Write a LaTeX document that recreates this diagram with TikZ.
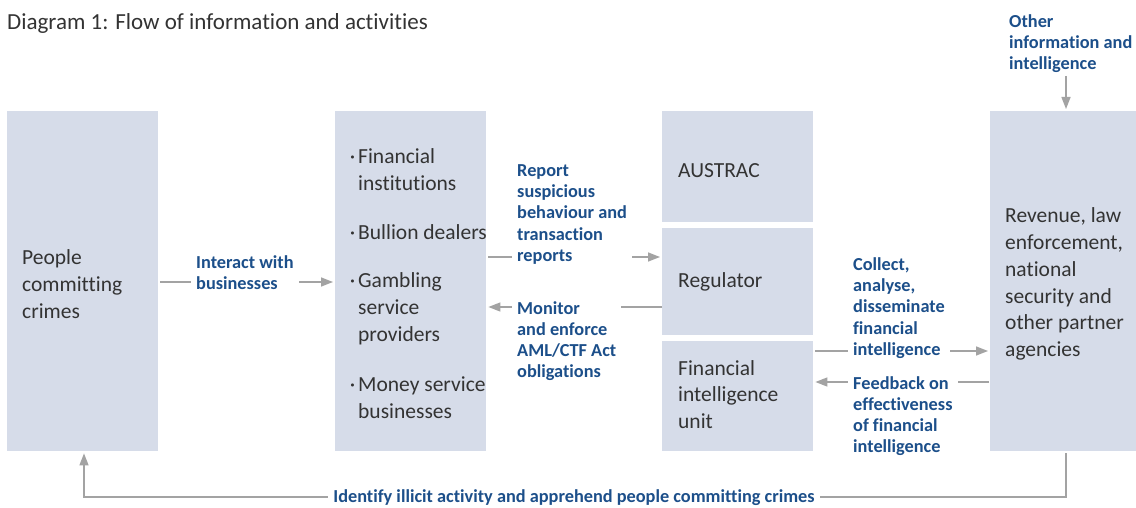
\documentclass[tikz,border=0pt]{standalone}
\usepackage{fontspec}
\setmainfont{Carlito}[Ligatures=NoCommon]
\usetikzlibrary{arrows.meta}
\definecolor{boxfill}{HTML}{D6DCE9}
\definecolor{labelblue}{HTML}{1C4F8A}
\definecolor{bodytext}{HTML}{333333}
\definecolor{linegrey}{HTML}{A3A3A3}
\begin{document}
\begin{tikzpicture}[x=1pt,y=-1pt,
  box/.style={fill=boxfill, draw=none, anchor=north west, inner sep=0pt},
  body/.style={text=bodytext, font=\fontsize{21.5}{26.8}\selectfont, align=left, anchor=west, inner sep=0pt},
  lbl/.style={text=labelblue, font=\bfseries\fontsize{18.3}{21.2}\selectfont, align=left, anchor=west, fill=white, inner xsep=5pt, inner ysep=0pt},
  flow/.style={draw=linegrey, line width=1.4pt, -{Triangle[length=12pt,width=9pt]}},
]
\useasboundingbox (0,0) rectangle (1136,508);
\fill[white] (0,0) rectangle (1136,508);

% title
\node[body, font=\fontsize{23}{26}\selectfont] (title) at (7,23.5) {Diagram 1: Flow of information and activities};

% boxes
\node[box, minimum width=151pt, minimum height=340pt] (crimes)   at (7,111)   {};
\node[box, minimum width=151pt, minimum height=340pt] (business) at (335,111) {};
\node[box, minimum width=151pt, minimum height=111pt] (austrac)  at (662,111) {};
\node[box, minimum width=151pt, minimum height=107pt] (regulator) at (662,228) {};
\node[box, minimum width=151pt, minimum height=110pt] (fiu)      at (662,341) {};
\node[box, minimum width=146pt, minimum height=340pt] (agencies) at (990,111) {};

% box texts
\node[body] (t-crimes) at (22,284) {People\\committing\\crimes};
\node[body] (t-fin)   at (358,169.5) {\llap{·\hspace{3pt}}Financial\\institutions};
\node[body] (t-bul)   at (358,232)   {\llap{·\hspace{3pt}}Bullion dealers};
\node[body] (t-gam)   at (358,308.5) {\llap{·\hspace{3pt}}Gambling\\service\\providers};
\node[body] (t-mon)   at (358,398)   {\llap{·\hspace{3pt}}Money service\\businesses};
\node[body] (t-aus)   at (678,171)   {AUSTRAC};
\node[body] (t-reg)   at (678,282)   {Regulator};
\node[body] (t-fiu)   at (678,394.5) {Financial\\intelligence\\unit};
\node[body] (t-agn)   at (1005,284)  {Revenue, law\\enforcement,\\national\\security and\\other partner\\agencies};

% flows between the boxes
\draw[flow, shorten <=2pt, shorten >=2pt] (crimes.east |- 0,282) -- (business.west |- 0,282);
\node[lbl] (l-interact) at (191,272.5) {Interact with\\businesses};

\draw[flow, shorten <=2pt, shorten >=2pt] (business.east |- 0,257) -- (regulator.west |- 0,257);
\node[lbl] (l-report) at (512,214.5) {Report\\suspicious\\behaviour and\\transaction\\reports};

\draw[flow, shorten >=2pt] (regulator.west |- 0,307) -- (business.east |- 0,307);
\node[lbl] (l-monitor) at (512,341) {Monitor\\and enforce\\AML/CTF Act\\obligations};

\draw[flow, shorten <=2pt, shorten >=2pt] (fiu.east |- 0,351) -- (agencies.west |- 0,351);
\node[lbl] (l-collect) at (848,308) {Collect,\\analyse,\\disseminate\\financial\\intelligence};

\draw[flow, shorten <=1pt, shorten >=2pt] (agencies.west |- 0,382) -- (fiu.east |- 0,382);
\node[lbl] (l-feedback) at (848,416) {Feedback on\\effectiveness\\of financial\\intelligence};

% incoming information
\node[lbl, fill=none] (l-other) at (1004,43.5) {Other\\information and\\intelligence};
\draw[flow, shorten <=3pt, shorten >=2pt] (l-other.south -| 1066,0) -- (agencies.north -| 1066,0);

% feedback loop along the bottom
\draw[flow, shorten <=2pt, shorten >=2pt] (agencies.south -| 1066,0) -- (1066,497) -| (crimes.south -| 84,0);
\node[lbl, anchor=center] (l-identify) at (574,498) {Identify illicit activity and apprehend people committing crimes};
\end{tikzpicture}
\end{document}
